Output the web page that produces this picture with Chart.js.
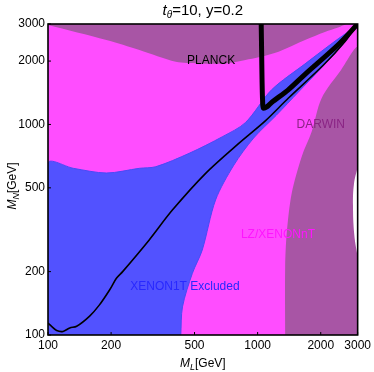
<!DOCTYPE html>
<html>
<head>
<meta charset="utf-8">
<script src="https://cdn.jsdelivr.net/npm/chart.js@4.4.1/dist/chart.umd.min.js"></script>
<style>
html, body { margin: 0; padding: 0; background: #fff; }
#wrap { width: 374px; height: 372px; }
</style>
</head>
<body>
<div id="wrap"><canvas id="myChart" width="374" height="372"></canvas></div>
<script>
// tick labels, same on both log axes
var TickVals = [100, 200, 500, 1000, 2000, 3000];

// PLANCK: lower edge of the top region (filled up to the top)
var PlanckML = [100, 190, 273, 407, 525, 703, 874, 1011, 1258, 1683, 2094, 2421, 2642];
var PlanckMN = [2965, 2516, 2256, 1985, 1950, 1950, 2022, 2083, 2214, 2516, 2747, 2885, 3000];

// DARWIN: right hand region
var DarwinML = [1353, 1353, 1377, 1454, 1622, 1808, 2017, 2500, 3000, 3000];
var DarwinMN = [100, 211, 305, 471, 703, 920, 1330, 1813, 2298, 100];

// XENON1T excluded (lower left + the narrow diagonal band)
var XenonML = [100, 100, 132, 190, 273, 327, 471, 678, 874, 1165, 1683, 2421, 2956, 3000,
               2556, 2011, 1564, 1230, 957, 770, 630, 544, 488, 438, 430];
var XenonMN = [100, 654, 619, 588, 619, 630, 729, 874, 1020, 1460, 1940, 2550, 2930, 3000,
               2409, 1853, 1425, 1108, 862, 641, 438, 253, 196, 136, 100];

// small white gap at the right edge
var GapML = [3000, 2880, 2850, 2890, 3000];
var GapMN = [628, 520, 414, 300, 235];

// thin black curve
var LineML = [100, 104, 110, 118, 127, 137, 158, 176, 197, 212, 227, 304, 392, 565, 813, 1088, 1403, 2055, 2600, 3000];
var LineMN = [114, 110, 105, 104, 108, 110, 123, 139, 164, 186, 200, 283, 392, 586, 813, 1040, 1335, 1910, 2465, 3000];

// thick black curve
var ThickML = [1040, 1045, 1050, 1056, 1066, 1110, 1169, 1400, 1683, 2421, 3000];
var ThickMN = [3000, 2200, 1600, 1300, 1195, 1215, 1275, 1460, 1730, 2390, 3000];

var FONT = '"Liberation Sans", Arial, sans-serif';

function pts(xs, ys) {
  return xs.map(function (x, i) { return { x: x, y: ys[i] }; });
}

function setTicks(scale) {
  scale.ticks = TickVals.map(function (v) { return { value: v }; });
}

// magenta background = LZ/XENONnT reach
var bgPlugin = {
  id: 'bg',
  beforeDatasetsDraw: function (chart) {
    var a = chart.chartArea, c = chart.ctx;
    c.save();
    c.fillStyle = '#ff4dff';
    c.fillRect(a.left, a.top, a.right - a.left, a.bottom - a.top);
    c.restore();
  }
};

// draws pieces of text with italic / subscript parts
function richText(c, parts, cx, cy, rot) {
  var w = 0;
  parts.forEach(function (p) { c.font = p.f; p.w = c.measureText(p.t).width; w += p.w; });
  c.save();
  c.translate(cx, cy);
  if (rot) c.rotate(rot);
  c.textBaseline = 'alphabetic';
  c.textAlign = 'left';
  var x = -w / 2;
  parts.forEach(function (p) {
    c.font = p.f;
    c.fillText(p.t, x, p.dy || 0);
    x += p.w;
  });
  c.restore();
}

var textPlugin = {
  id: 'texts',
  afterDatasetsDraw: function (chart) {
    var a = chart.chartArea, c = chart.ctx;
    var xs = chart.scales.x, ys = chart.scales.y;
    c.save();
    // small inner ticks
    c.strokeStyle = '#000';
    c.lineWidth = 1;
    c.beginPath();
    TickVals.forEach(function (v) {
      var px = xs.getPixelForValue(v), py = ys.getPixelForValue(v);
      c.moveTo(px, a.bottom); c.lineTo(px, a.bottom - 3);
      c.moveTo(a.left, py); c.lineTo(a.left + 3, py);
    });
    c.stroke();
    // frame
    c.lineWidth = 1.6;
    c.strokeRect(a.left, a.top, a.right - a.left, a.bottom - a.top);

    // region labels
    c.font = '12px ' + FONT;
    c.textAlign = 'center';
    c.textBaseline = 'middle';
    c.fillStyle = '#000';
    c.fillText('PLANCK', xs.getPixelForValue(600), ys.getPixelForValue(2000));
    c.fillStyle = '#8a2484';
    c.fillText('DARWIN', xs.getPixelForValue(2000), ys.getPixelForValue(1000));
    c.fillStyle = '#ff14ff';
    c.fillText('LZ/XENONnT', xs.getPixelForValue(1250), ys.getPixelForValue(300));
    c.fillStyle = '#2828ff';
    c.fillText('XENON1T Excluded', xs.getPixelForValue(450), ys.getPixelForValue(170));
    c.restore();

    c.save();
    c.fillStyle = '#000';
    var cx = (a.left + a.right) / 2;
    richText(c, [
      { t: 't', f: 'italic 15px ' + FONT },
      { t: 'θ', f: 'italic 10px ' + FONT, dy: 3 },
      { t: '=10, y=0.2', f: '15px ' + FONT }
    ], cx, 15);
    richText(c, [
      { t: 'M', f: 'italic 12px ' + FONT },
      { t: 'L', f: 'italic 9px ' + FONT, dy: 3 },
      { t: '[GeV]', f: '12px ' + FONT }
    ], cx, 367);
    richText(c, [
      { t: 'M', f: 'italic 12px ' + FONT },
      { t: 'N', f: 'italic 9px ' + FONT, dy: 3 },
      { t: '[GeV]', f: '12px ' + FONT }
    ], 16, 186, -Math.PI / 2);
    c.restore();
  }
};

var tickFont = { family: FONT, size: 12 };

var ctx = document.getElementById("myChart");
var myChart = new Chart(ctx, {
  type: 'scatter',
  data: {
    datasets: [
      {
        data: pts(PlanckML, PlanckMN),
        showLine: true, pointRadius: 0, borderWidth: 0, tension: 0.3, clip: 0,
        backgroundColor: '#a855a5', fill: 'end', order: 6
      },
      {
        data: pts(DarwinML, DarwinMN),
        showLine: true, pointRadius: 0, borderWidth: 0, tension: 0.3, clip: 0,
        backgroundColor: '#a855a5', fill: 'shape', order: 5
      },
      {
        data: pts(XenonML, XenonMN),
        showLine: true, pointRadius: 0, borderWidth: 1, borderColor: '#4a4af5', tension: 0.3, clip: 0,
        backgroundColor: '#5252ff', fill: 'shape', order: 4
      },
      {
        data: pts(GapML, GapMN),
        showLine: true, pointRadius: 0, borderWidth: 0, tension: 0.4, clip: 0,
        backgroundColor: '#ffffff', fill: 'shape', order: 3
      },
      {
        data: pts(LineML, LineMN),
        showLine: true, pointRadius: 0, borderWidth: 1.6, borderColor: '#000', tension: 0.3, clip: 0,
        fill: false, order: 2
      },
      {
        data: pts(ThickML, ThickMN),
        showLine: true, pointRadius: 0, borderWidth: 5, borderColor: '#000', tension: 0.3, clip: 0,
        borderJoinStyle: 'round', fill: false, order: 1
      }
    ]
  },
  options: {
    responsive: false,
    animation: false,
    events: [],
    layout: { padding: { top: 24, right: 14, left: 0, bottom: 0 } },
    plugins: { legend: { display: false }, tooltip: { enabled: false }, title: { display: false } },
    scales: {
      x: {
        type: 'logarithmic', min: 100, max: 3000,
        grid: { display: false, drawTicks: false }, border: { display: false },
        afterBuildTicks: setTicks,
        afterFit: function (s) { s.height = 37; },
        ticks: { autoSkip: false, maxRotation: 0, padding: 3, color: '#000', font: tickFont,
                 callback: function (v) { return String(v); } }
      },
      y: {
        type: 'logarithmic', min: 100, max: 3000,
        grid: { display: false, drawTicks: false }, border: { display: false },
        afterBuildTicks: setTicks,
        afterFit: function (s) { s.width = 48; },
        ticks: { autoSkip: false, padding: 3, color: '#000', font: tickFont,
                 callback: function (v) { return String(v); } }
      }
    }
  },
  plugins: [bgPlugin, textPlugin]
});
</script>
</body>
</html>
